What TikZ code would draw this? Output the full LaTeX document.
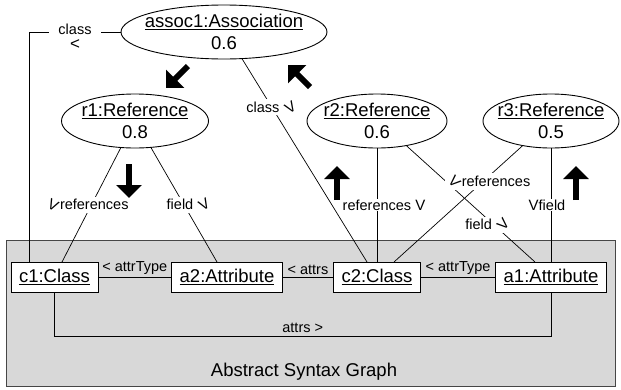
\documentclass[tikz,border=0pt]{standalone}
\usepackage{fontspec}
\usepackage{graphicx}
\setmainfont{Liberation Sans}
\usetikzlibrary{shapes.geometric,arrows.meta}
\definecolor{asgfill}{RGB}{216,216,216}
\definecolor{asgline}{RGB}{70,70,70}
\newcommand{\chev}[1]{\rotatebox[origin=c]{#1}{\fontsize{15}{15}\selectfont V}}
\begin{document}
\begin{tikzpicture}[x=1pt,y=-1pt,
  every node/.style={inner sep=0pt, outer sep=0pt},
  obj/.style={draw, fill=white, line width=0.9pt, inner xsep=8pt, inner ysep=0pt,
    minimum height=30pt, font=\fontsize{18.5}{22}\selectfont},
  refell/.style={draw, ellipse, line width=0.9pt, minimum width=#1, minimum height=54pt},
  elltext/.style={align=center, font=\fontsize{18.5}{22}\selectfont},
  conn/.style={line width=0.7pt},
  lbl/.style={fill=white, inner xsep=2pt, inner ysep=1pt, align=center, font=\fontsize{14.5}{15}\selectfont},
  lbltwo/.style={align=center, font=\fontsize{14.5}{17}\selectfont},
  bigarrow/.style={line width=6pt, -{Triangle[length=13pt,width=25pt]}},
  asgbox/.style={draw=asgline, fill=asgfill, line width=0.9pt}]
\useasboundingbox (0,0) rectangle (621,389);

% abstract syntax graph area
\draw[asgbox] (6,240) rectangle (615,386);
\node[font=\fontsize{18.5}{22}\selectfont] (asglabel) at (304,372) {Abstract Syntax Graph};

% ellipses
\node[refell=206pt] (assoc) at (224,32) {};
\node[elltext] (assoct) at (assoc.center) {\underline{assoc1:Association}\\0.6};
\node[refell=147pt] (r1) at (135,121) {};
\node[elltext] (r1t) at (r1.center) {\underline{r1:Reference}\\0.8};
\node[refell=140pt] (r2) at (377,121) {};
\node[elltext] (r2t) at (r2.center) {\underline{r2:Reference}\\0.6};
\node[refell=136pt] (r3) at (551,121) {};
\node[elltext] (r3t) at (r3.center) {\underline{r3:Reference}\\0.5};

% object boxes
\node[obj] (c1) at (54.5,277) {\underline{c1:Class}};
\node[obj] (a2) at (227,277) {\underline{a2:Attribute}};
\node[obj] (c2) at (377,277) {\underline{c2:Class}};
\node[obj] (a1) at (551,277) {\underline{a1:Attribute}};

% connectors inside the graph
\draw[conn] (c1.east) -- (a2.west) node[lbltwo, midway, above=2pt] {< attrType};
\draw[conn] (a2.east) -- (c2.west) node[lbltwo, midway, above=2pt] {< attrs};
\draw[conn] (c2.east) -- (a1.west) node[lbltwo, midway, above=2pt] {< attrType};
\draw[conn] (c1.south) -- ++(0,44) -| (a1.south) node[lbltwo, pos=0.25, above=3pt] {attrs >};

% connectors from the ellipses
\draw[conn] ([xshift=-25.5pt]c1.north) |- (assoc.west)
  node[lbl, pos=0.75, yshift=-5pt, inner xsep=9pt] {class\\{\fontsize{17}{15}\selectfont <}};
\draw[conn] (assoc.-56) -- ([xshift=-10pt]c2.north)
  node[lbl, pos=0.24] {class \chev{32}};
\draw[conn] (r1.-118) -- ([xshift=7.5pt]c1.north)
  node[lbl, pos=0.5, xshift=-4pt] {\chev{-27}references};
\draw[conn] (r1.-59) -- ([xshift=-10pt]a2.north)
  node[lbl, pos=0.5, xshift=5pt] {field \chev{30}};
\draw[conn] (r2.south) -- (c2.north)
  node[lbl, pos=0.5, xshift=7pt] {references \chev{0}};
\draw[conn] (r2.-40) -- ([xshift=-16pt]a1.north)
  node[lbl, pos=0.68, xshift=-6pt] {field \chev{48}};
\draw[conn] (r3.-139) -- ([xshift=17pt]c2.north)
  node[lbl, pos=0.31, xshift=6pt] {\chev{-48}references};
\draw[conn] (r3.south) -- (a1.north)
  node[lbl, pos=0.5, xshift=-4pt] {\chev{0}field};

% big direction arrows
\coordinate (ba1s) at (188,66);  \coordinate (ba1e) at (166,88);
\coordinate (ba2s) at (310,87);  \coordinate (ba2e) at (288,65);
\coordinate (ba3s) at (129,164); \coordinate (ba3e) at (129,198);
\coordinate (ba4s) at (337,200); \coordinate (ba4e) at (337,166);
\coordinate (ba5s) at (576,200); \coordinate (ba5e) at (576,166);
\draw[bigarrow] (ba1s) -- (ba1e);
\draw[bigarrow] (ba2s) -- (ba2e);
\draw[bigarrow] (ba3s) -- (ba3e);
\draw[bigarrow] (ba4s) -- (ba4e);
\draw[bigarrow] (ba5s) -- (ba5e);
\end{tikzpicture}
\end{document}
